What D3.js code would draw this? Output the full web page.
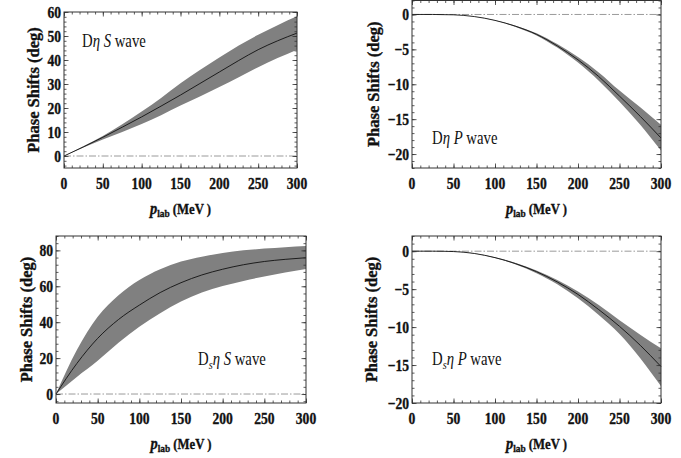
<!DOCTYPE html>
<html>
<head>
<meta charset="utf-8">
<script src="https://cdn.jsdelivr.net/npm/d3@7"></script>
<style>
  body { margin: 0; background: #fff; }
  svg { display: block; }
</style>
</head>
<body>
<svg id="chart" width="681" height="458" font-family="'Liberation Serif', 'Times New Roman', Times, 'DejaVu Serif', serif"></svg>
<script>
// p_lab values (MeV)
const pLab = [0, 25, 50, 75, 100, 125, 150, 175, 200, 225, 250, 275, 300];

// D eta S wave
const dEtaS_mid = [0, 3.8, 7.8, 12, 16.3, 20.8, 25.4, 30.2, 35, 39.8, 44.3, 48, 51.2];
const dEtaS_hi  = [0, 4.1, 8.3, 13.2, 18.5, 24.2, 30.3, 35.8, 41, 46, 50.5, 54.5, 58.2];
const dEtaS_lo  = [0, 3.5, 6.9, 10, 13.3, 17, 21, 24.8, 28.7, 32.8, 37, 40.8, 44.3];

// D eta P wave
const dEtaP_mid = [0, 0, -0.05, -0.3, -0.85, -1.7, -2.85, -4.5, -6.5, -8.9, -11.7, -14.6, -17.7];
const dEtaP_hi  = [0, 0, -0.05, -0.3, -0.83, -1.62, -2.7, -4.25, -6.1, -8.3, -10.9, -13.3, -15.8];
const dEtaP_lo  = [0, 0, -0.05, -0.3, -0.87, -1.78, -3.0, -4.75, -6.9, -9.5, -12.5, -15.8, -19.5];

// Ds eta S wave
const dsEtaS_mid = [0, 17, 31, 41.5, 49.5, 56.5, 62, 66.3, 69.5, 72, 73.8, 75, 75.9];
const dsEtaS_hi  = [0, 24.5, 43, 55, 63.5, 69.5, 73.8, 76.5, 78.5, 80, 81, 81.8, 82.4];
const dsEtaS_lo  = [0, 9.5, 18.5, 28.5, 37.5, 45, 51.5, 56.5, 60.2, 63, 65.5, 67.7, 69.6];

// Ds eta P wave
const dsEtaP_mid = [0, 0, -0.05, -0.3, -0.85, -1.65, -2.7, -4.05, -5.7, -7.7, -9.9, -12.4, -15.2];
const dsEtaP_hi  = [0, 0, -0.05, -0.28, -0.8, -1.55, -2.55, -3.8, -5.3, -7.1, -9.1, -11.0, -12.8];
const dsEtaP_lo  = [0, 0, -0.05, -0.32, -0.9, -1.75, -2.9, -4.35, -6.2, -8.4, -10.9, -14.1, -17.8];

const xTicks = [0, 50, 100, 150, 200, 250, 300];

const svg = d3.select("#chart");
const SX = 0.85; // the original text is a bit condensed

function fmt(d) {
  return d < 0 ? "\u2212" + Math.abs(d) : String(d);
}

// heavy bold text like the original
function bold(sel) {
  return sel.attr("font-weight", "bold")
    .attr("fill", "#111")
    .attr("stroke", "#111")
    .attr("stroke-width", 0.35);
}

function drawPanel(p) {
  const g = svg.append("g");
  const x = d3.scaleLinear().domain([0, 300]).range([p.x0, p.x1]);
  const y = d3.scaleLinear().domain(p.yDom).range([p.y1, p.y0]);

  const rows = pLab.map((v, i) => ({ p: v, mid: p.mid[i], hi: p.hi[i], lo: p.lo[i] }));

  // band
  g.append("path")
    .datum(rows)
    .attr("fill", "#808080")
    .attr("d", d3.area()
      .x(d => x(d.p))
      .y0(d => y(d.lo))
      .y1(d => y(d.hi))
      .curve(d3.curveMonotoneX));

  // zero line
  g.append("line")
    .attr("x1", x(0)).attr("x2", x(300))
    .attr("y1", y(0)).attr("y2", y(0))
    .attr("stroke", "#9a9a9a")
    .attr("stroke-width", 1)
    .attr("stroke-dasharray", "7,2,1.5,2");

  // central curve
  g.append("path")
    .datum(rows)
    .attr("fill", "none")
    .attr("stroke", "#111")
    .attr("stroke-width", 0.9)
    .attr("d", d3.line()
      .x(d => x(d.p))
      .y(d => y(d.mid))
      .curve(d3.curveMonotoneX));

  // frame ticks, pointing inward on all four sides
  const yMajor = d3.range(p.yTick0, p.yDom[1] + 0.001, p.yMajor);
  const yMinor = d3.range(Math.ceil(p.yDom[0] / p.yMinor) * p.yMinor, p.yDom[1] + 0.001, p.yMinor);
  const xMinor = d3.range(0, 301, 10);

  const axes = [
    [d3.axisBottom(x).tickValues(xMinor).tickSize(-2.5), `translate(0,${p.y1})`],
    [d3.axisBottom(x).tickValues(xTicks).tickSize(-4.5), `translate(0,${p.y1})`],
    [d3.axisTop(x).tickValues(xMinor).tickSize(-2.5), `translate(0,${p.y0})`],
    [d3.axisTop(x).tickValues(xTicks).tickSize(-4.5), `translate(0,${p.y0})`],
    [d3.axisLeft(y).tickValues(yMinor).tickSize(-2.5), `translate(${p.x0},0)`],
    [d3.axisLeft(y).tickValues(yMajor).tickSize(-4.5), `translate(${p.x0},0)`],
    [d3.axisRight(y).tickValues(yMinor).tickSize(-2.5), `translate(${p.x1},0)`],
    [d3.axisRight(y).tickValues(yMajor).tickSize(-4.5), `translate(${p.x1},0)`]
  ];
  axes.forEach(([ax, tr]) => {
    const a = g.append("g").attr("transform", tr).call(ax.tickFormat(""));
    a.select(".domain").remove();
    a.selectAll(".tick line").attr("stroke", "#333").attr("stroke-width", 0.8);
  });

  // frame
  g.append("rect")
    .attr("x", p.x0).attr("y", p.y0)
    .attr("width", p.x1 - p.x0).attr("height", p.y1 - p.y0)
    .attr("fill", "none")
    .attr("stroke", "#333")
    .attr("stroke-width", 1);

  // tick labels
  g.selectAll(".xlab")
    .data(xTicks)
    .enter().append("text")
    .attr("transform", d => `translate(${x(d)},${p.y1 + 20.5}) scale(${SX},1)`)
    .attr("text-anchor", "middle")
    .attr("font-size", 16)
    .call(bold)
    .text(fmt);

  g.selectAll(".ylab")
    .data(yMajor)
    .enter().append("text")
    .attr("transform", d => `translate(${p.x0 - 3},${y(d) + 5.5}) scale(${SX},1)`)
    .attr("text-anchor", "end")
    .attr("font-size", 16)
    .call(bold)
    .text(fmt);

  // axis titles
  const xt = g.append("text")
    .attr("transform", `translate(${(p.x0 + p.x1) / 2},${p.y1 + 46}) scale(${SX},1)`)
    .attr("text-anchor", "middle")
    .attr("font-size", 15)
    .call(bold);
  xt.append("tspan").attr("font-style", "italic").attr("font-size", 17).text("p");
  xt.append("tspan").attr("font-size", 11).attr("dy", 3).text("lab");
  xt.append("tspan").attr("dy", -3).text(" (MeV )");

  g.append("text")
    .attr("transform", `translate(${p.titleX},${(p.y0 + p.y1) / 2}) rotate(-90)`)
    .attr("text-anchor", "middle")
    .attr("font-size", 16.5)
    .call(bold)
    .text("Phase Shifts (deg)");

  // panel label
  const lb = g.append("text")
    .attr("transform", `translate(${p.lx},${p.ly}) scale(0.82,1)`)
    .attr("font-size", 18)
    .attr("fill", "#111");
  lb.append("tspan").text("D");
  if (p.sub) {
    lb.append("tspan").attr("font-style", "italic").attr("font-size", 12.5).attr("dy", 3.5).text("s");
    lb.append("tspan").attr("font-style", "italic").attr("dy", -3.5).text("\u03b7");
  } else {
    lb.append("tspan").attr("font-style", "italic").text("\u03b7");
  }
  lb.append("tspan").text(" ");
  lb.append("tspan").attr("font-style", "italic").text(p.wave);
  lb.append("tspan").text(" wave");
}

const panels = [
  { x0: 64, x1: 297, y0: 12, y1: 168, yDom: [-5, 60], yTick0: 0, yMajor: 10, yMinor: 2,
    mid: dEtaS_mid, hi: dEtaS_hi, lo: dEtaS_lo, titleX: 39, lx: 82, ly: 47, sub: false, wave: "S" },
  { x0: 412, x1: 661, y0: 0.5, y1: 168, yDom: [-22, 2], yTick0: -20, yMajor: 5, yMinor: 1,
    mid: dEtaP_mid, hi: dEtaP_hi, lo: dEtaP_lo, titleX: 379, lx: 432, ly: 144, sub: false, wave: "P" },
  { x0: 56, x1: 306, y0: 236, y1: 403, yDom: [-5, 88], yTick0: 0, yMajor: 20, yMinor: 4,
    mid: dsEtaS_mid, hi: dsEtaS_hi, lo: dsEtaS_lo, titleX: 32, lx: 198, ly: 365, sub: true, wave: "S" },
  { x0: 412, x1: 661, y0: 236, y1: 403, yDom: [-20, 2], yTick0: -20, yMajor: 5, yMinor: 1,
    mid: dsEtaP_mid, hi: dsEtaP_hi, lo: dsEtaP_lo, titleX: 377, lx: 432, ly: 365, sub: true, wave: "P" }
];

panels.forEach(drawPanel);
</script>
</body>
</html>
